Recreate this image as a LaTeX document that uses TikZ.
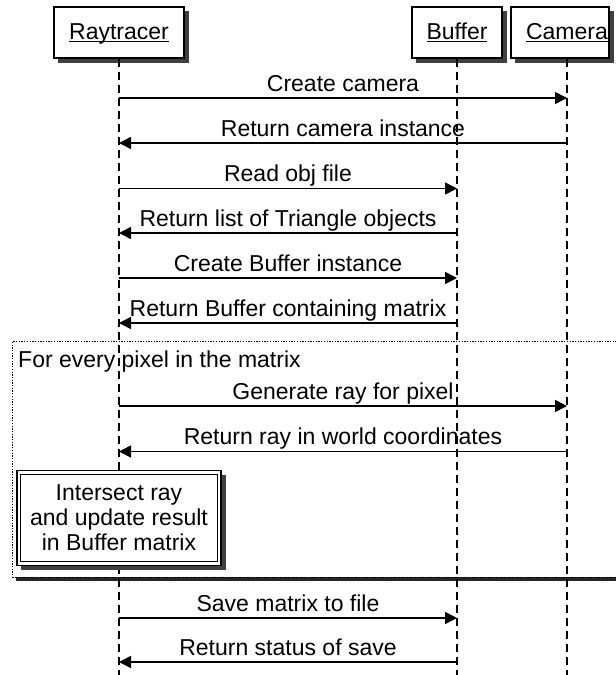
\documentclass[tikz,border=0pt]{standalone}
\usepackage{fontspec}
\setmainfont{Liberation Sans}
\usetikzlibrary{arrows.meta}
\newcommand\ulbl[1]{\underline{\vphantom{A}\smash{#1}}}
\begin{document}
\begin{tikzpicture}[x=1pt,y=-1pt,
  every node/.style={font=\fontsize{23}{25}\selectfont},
  shadownode/.style={fill=black!75, draw=none, inner sep=0pt},
  hdr/.style={draw, line width=1.3pt, fill=white, inner sep=0pt, minimum height=51pt},
  life/.style={line width=1.6pt, dash pattern=on 8pt off 5pt},
  msg/.style={line width=1.6pt, -{Triangle[length=12pt,width=12pt]}},
  lbl/.style={anchor=base, inner sep=0pt, yshift=6.6pt},
  frame/.style={draw, line width=1.1pt, dash pattern=on 1.3pt off 1.4pt, inner sep=0pt},
  proc/.style={draw, line width=1.2pt, double, double distance=2.3pt, fill=white, inner sep=0pt, align=center}
]
\useasboundingbox (0,0) rectangle (616,675);

% loop frame (extends past right edge) and its shadow
\node[shadownode, fill=black!85, anchor=north west, minimum width=620pt, minimum height=4pt] (loopsh) at (16,577) {};
\node[frame, anchor=north west, minimum width=620pt, minimum height=236.3pt] (loop) at (12,340.7) {};
\node[anchor=base west, inner sep=0pt] (looptxt) at (18,367) {For every pixel in the matrix};

% participant shadows
\node[shadownode, minimum width=131pt, minimum height=52pt] (rtsh) at (123.5,37) {};
\node[shadownode, minimum width=91pt, minimum height=52pt] (bfsh) at (461.5,37) {};
\node[shadownode, minimum width=99pt, minimum height=52pt] (camsh) at (564.5,37) {};

% participants
\node[hdr, minimum width=130pt] (rt) at (119,32.5) {\ulbl{Raytracer}};
\node[hdr, minimum width=90pt] (bf) at (457,32.5) {\ulbl{Buffer}};
\node[hdr, minimum width=98pt] (cam) at (560,32.5) {\hspace*{14pt}\ulbl{Camera}};

% lifeline x positions
\coordinate (R) at (119,0);
\coordinate (B) at (457,0);
\coordinate (C) at (567,0);
\coordinate (Rend) at (119,675);
\coordinate (Bend) at (457,675);
\coordinate (Cend) at (567,675);

\draw[life] (rt.south) -- (Rend);
\draw[life] (bf.south) -- (Bend);
\draw[life] (C |- cam.south) -- (Cend);

% messages
\draw[msg] (R |- 0,98) -- (C |- 0,98) node[midway, lbl] {Create camera};
\draw[msg] (C |- 0,143) -- (R |- 0,143) node[midway, lbl] {Return camera instance};
\draw[msg] (R |- 0,188.5) -- (B |- 0,188.5) node[midway, lbl] {Read obj file};
\draw[msg] (B |- 0,233) -- (R |- 0,233) node[midway, lbl] {Return list of Triangle objects};
\draw[msg] (R |- 0,278) -- (B |- 0,278) node[midway, lbl] {Create Buffer instance};
\draw[msg] (B |- 0,323) -- (R |- 0,323) node[midway, lbl] {Return Buffer containing matrix};
\draw[msg] (R |- 0,406) -- (C |- 0,406) node[midway, lbl] {Generate ray for pixel};
\draw[msg] (C |- 0,451.5) -- (R |- 0,451.5) node[midway, lbl] {Return ray in world coordinates};

% self action with shadow
\node[shadownode, minimum width=205pt, minimum height=95pt] (isectsh) at (123.5,522.5) {};
\node[proc, minimum width=200.5pt, minimum height=91pt] (isect) at (119,518) {Intersect ray\\and update result\\in Buffer matrix};

\draw[msg] (R |- 0,618) -- (B |- 0,618) node[midway, lbl] {Save matrix to file};
\draw[msg] (B |- 0,662) -- (R |- 0,662) node[midway, lbl] {Return status of save};
\end{tikzpicture}
\end{document}
